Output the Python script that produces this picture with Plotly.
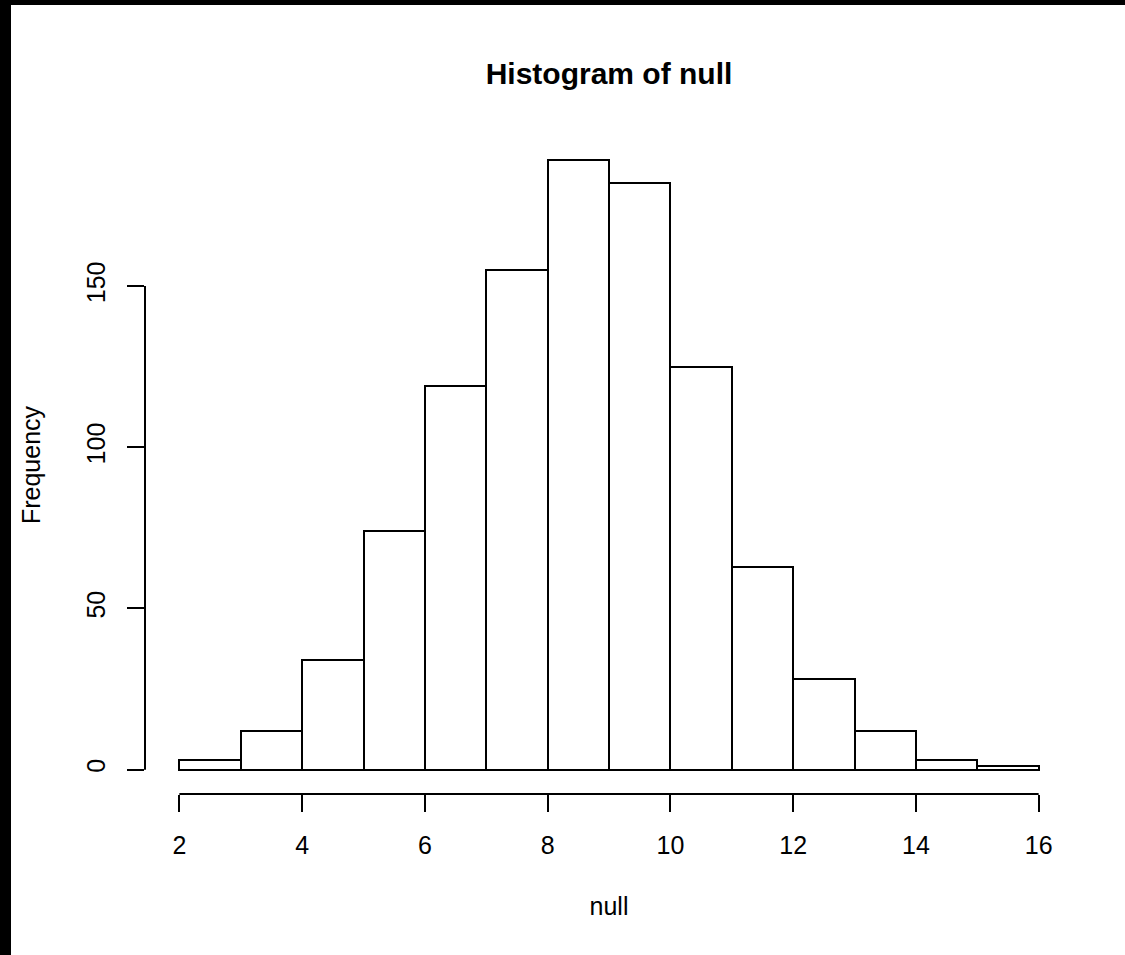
import plotly.graph_objects as go

# Data
breaks = [2, 3, 4, 5, 6, 7, 8, 9, 10, 11, 12, 13, 14, 15, 16]
counts = [3, 12, 34, 74, 119, 155, 189, 182, 125, 63, 28, 12, 3, 1]
x_ticks = [2, 4, 6, 8, 10, 12, 14, 16]
y_ticks = [0, 50, 100, 150]
title_text = "Histogram of null"
x_label = "null"
y_label = "Frequency"

mids = [(a + b) / 2 for a, b in zip(breaks[:-1], breaks[1:])]
widths = [b - a for a, b in zip(breaks[:-1], breaks[1:])]

W, H = 1125, 955
ml, mr, mt, mb = 145, 52, 136, 161
FONT = "Liberation Sans, Arial, Helvetica, sans-serif"

fig = go.Figure()
fig.add_trace(go.Bar(
    x=mids, y=counts, width=widths,
    marker=dict(color="white", line=dict(color="black", width=2)),
    showlegend=False, hoverinfo="x+y",
))

xr = breaks[-1] - breaks[0]
ymax = max(counts)
fig.update_layout(
    width=W, height=H,
    margin=dict(l=ml, r=mr, t=mt, b=mb, autoexpand=False),
    paper_bgcolor="white", plot_bgcolor="white",
    font=dict(family=FONT, size=25, color="black"),
    title=dict(text="<b>" + title_text + "</b>", x=0.5, xanchor="center",
               xref="paper", y=1 - 73 / H, yanchor="middle",
               font=dict(size=30, family=FONT, color="black")),
    bargap=0,
    xaxis=dict(range=[breaks[0] - 0.04 * xr, breaks[-1] + 0.04 * xr],
               tickvals=x_ticks, ticktext=[str(v) for v in x_ticks],
               ticks="outside", ticklen=17, tickwidth=2, tickcolor="black",
               showline=False, showgrid=False, zeroline=False,
               tickfont=dict(size=25), ticklabelstandoff=12,
               title=dict(text=x_label, standoff=39, font=dict(size=25))),
    yaxis=dict(range=[-0.04 * ymax, ymax * 1.04],
               tickvals=y_ticks, ticktext=[str(v) for v in y_ticks],
               ticks="outside", ticklen=17, tickwidth=2, tickcolor="black",
               tickangle=-90,
               showline=False, showgrid=False, zeroline=False,
               tickfont=dict(size=25), ticklabelstandoff=12,
               title=dict(text=y_label, standoff=34, font=dict(size=25))),
)

# R-style axis lines spanning only the tick range
fig.add_shape(type="line", xref="x", yref="paper",
              x0=x_ticks[0], x1=x_ticks[-1], y0=0, y1=0,
              line=dict(color="black", width=2))
fig.add_shape(type="line", xref="paper", yref="y",
              x0=0, x1=0, y0=y_ticks[0], y1=y_ticks[-1],
              line=dict(color="black", width=2))

# Black border strips at left and top of the image
pw = W - ml - mr
ph = H - mt - mb
fig.add_shape(type="rect", xref="paper", yref="paper",
              x0=-ml / pw, x1=(11 - ml) / pw, y0=-mb / ph, y1=1 + mt / ph,
              fillcolor="black", line=dict(width=0), layer="above")
fig.add_shape(type="rect", xref="paper", yref="paper",
              x0=-ml / pw, x1=1 + mr / pw, y0=1 + (mt - 5) / ph, y1=1 + mt / ph,
              fillcolor="black", line=dict(width=0), layer="above")

fig.write_html("out.html",
               config={"displayModeBar": False},
               post_script="document.body.style.margin='0';document.body.style.overflow='hidden';")
